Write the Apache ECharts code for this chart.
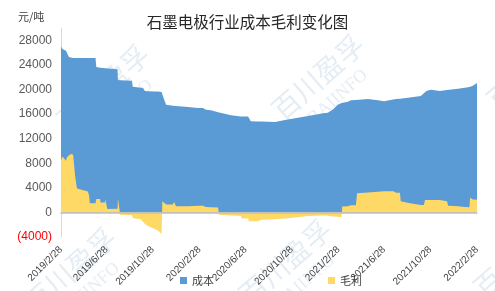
<!DOCTYPE html>
<html>
<head>
<meta charset="utf-8">
<script src="https://cdn.jsdelivr.net/npm/echarts@6/dist/echarts.min.js"></script>
<style>
html,body{margin:0;padding:0;background:#fff;}
#chart{width:495px;height:291px;}
</style>
</head>
<body>
<div id="chart"></div>
<script>
// ---- data ----
const dates = [
 '2019/2/28','2019/3/4','2019/3/8','2019/3/13','2019/3/16','2019/3/21','2019/3/26','2019/4/1','2019/4/6','2019/4/11',
 '2019/5/10','2019/5/13','2019/5/15','2019/5/30','2019/6/1','2019/6/11','2019/6/12','2019/6/24','2019/6/25','2019/6/29',
 '2019/6/30','2019/7/27','2019/7/28','2019/8/1','2019/8/3','2019/9/3','2019/9/5','2019/9/11','2019/9/26','2019/10/2',
 '2019/10/7','2019/10/15','2019/10/20','2019/11/2','2019/11/11','2019/11/20','2019/11/22','2019/11/26','2019/12/2','2019/12/20',
 '2019/12/23','2019/12/28','2020/1/29','2020/2/24','2020/3/8','2020/3/10','2020/3/16','2020/3/29','2020/4/17','2020/4/19',
 '2020/5/21','2020/6/16','2020/6/18','2020/7/5','2020/7/7','2020/7/10','2020/7/12','2020/7/31','2020/8/8','2020/9/14',
 '2020/10/10','2020/11/13','2020/12/10','2021/1/5','2021/1/18','2021/1/31','2021/2/14','2021/2/26','2021/3/8','2021/3/10',
 '2021/3/25','2021/4/2','2021/4/15','2021/4/18','2021/5/17','2021/6/12','2021/6/28','2021/7/22','2021/7/23','2021/7/30',
 '2021/8/9','2021/8/11','2021/9/4','2021/10/3','2021/10/11','2021/10/14','2021/10/19','2021/10/30','2021/11/22','2021/12/11',
 '2021/12/14','2022/1/9','2022/1/27','2022/2/8','2022/2/10','2022/2/17','2022/2/28'
];
const cost = [
 18500,17500,17100,17900,17150,16300,15700,15700,19100,21200,
 21700,22400,23600,23600,21450,21350,21950,21850,21350,21300,
 22850,22680,19300,19250,21900,21850,21350,21400,21400,21800,
 21650,21900,22200,22350,22650,23100,17800,16600,16200,16050,
 15600,16300,16150,15900,15900,16200,15800,15750,15500,16650,
 16300,16200,16600,16600,16950,16750,16300,16250,16000,15800,
 16050,16200,16300,16500,16650,16750,17450,18200,18600,16850,
 17000,17100,17150,15250,15200,14900,14650,14900,14700,15250,
 15300,16700,17200,17750,18200,17600,17800,17950,17750,18100,
 18850,19100,19400,19550,18100,18500,19000
];
const profit = [
 8500,9100,9200,8400,9000,9000,9500,9400,6000,3900,
 3400,2700,1500,1500,2200,2200,1600,1600,2100,2100,
 550,600,2250,2250,-400,-450,-900,-1000,-1100,-1500,
 -1900,-2200,-2500,-2700,-3000,-3500,1800,1900,1300,1300,
 1700,1000,1000,1100,1100,1100,900,850,800,-400,
 -500,-600,-1000,-1000,-1450,-1450,-1450,-1450,-1200,-1100,
 -1000,-800,-600,-550,-500,-550,-650,-700,-800,950,
 1000,1150,1150,3100,3250,3350,3450,3450,3700,3200,
 3200,1800,1500,1200,1200,2000,2000,2000,2000,1800,
 1100,1000,900,850,2400,2100,2050
];
const tickLabels = ['2019/2/28','2019/6/28','2019/10/28','2020/2/28','2020/6/28','2020/10/28','2021/2/28','2021/6/28','2021/10/28','2022/2/28'];
const seriesNames = ['成本','毛利'];
const titleText = '石墨电极行业成本毛利变化图';
const unitText = '元/吨';

// ---- helpers ----
function ts(s){const p=s.split('/').map(Number);return new Date(p[0],p[1]-1,p[2]).getTime();}
function fmt(v){const d=new Date(v);return d.getFullYear()+'/'+(d.getMonth()+1)+'/'+d.getDate();}
// cost is stacked on top of profit (as in the source stacked-area chart)
const costTopData = dates.map((d,i)=>[ts(d),cost[i]+profit[i]]);
const profitData = dates.map((d,i)=>[ts(d),profit[i]]);
const tickValues = tickLabels.map(ts);

const wmColor = 'rgba(170,195,220,0.3)';
function wm(cx,cy){
  const a = 0.72;
  return [
    {type:'text',x:cx,y:cy,rotation:a,z:0,silent:true,style:{text:'百川盈孚',fill:wmColor,fontSize:28,fontFamily:'Noto Sans CJK SC',align:'center',verticalAlign:'middle'}},
    {type:'text',x:cx+20,y:cy+20,rotation:a,z:0,silent:true,style:{text:'BAIINFO',fill:wmColor,fontSize:18,fontFamily:'Liberation Serif',align:'center',verticalAlign:'middle'}}
  ];
}

const chart = echarts.init(document.getElementById('chart'), null, {renderer:'canvas'});
chart.setOption({
  animation:false,
  backgroundColor:'#ffffff',
  title:{
    text:titleText,left:'center',top:9,
    textStyle:{fontSize:15.5,fontWeight:'normal',color:'#262626',fontFamily:'Noto Sans CJK SC'}
  },
  graphic:[
    {type:'text',left:18,top:11,z:10,style:{text:unitText,fill:'#404040',fontSize:11,fontFamily:'Noto Sans CJK SC'}},
    ...wm(318,77),...wm(103,87),...wm(285,262),...wm(70,270),...wm(520,255),...wm(533,67)
  ],
  legend:{
    data:seriesNames,left:175,top:270,icon:'rect',itemWidth:7,itemHeight:7,itemGap:114,
    textStyle:{fontSize:11,color:'#404040',fontFamily:'Noto Sans CJK SC'}
  },
  grid:{left:61,right:18,top:28,bottom:54},
  xAxis:{
    type:'value',min:ts('2019/2/28'),max:ts('2022/2/28'),z:10,
    axisLine:{onZero:true,lineStyle:{color:'#BFBFBF',width:1.5}},
    axisTick:{show:false},
    splitLine:{show:false},
    axisLabel:{
      customValues:tickValues,rotate:45,margin:11,fontSize:10,color:'#404040',
      fontFamily:'Liberation Sans',formatter:(v)=>fmt(v)
    }
  },
  yAxis:{
    type:'value',min:-4000,max:30000,interval:4000,
    axisLine:{show:true,lineStyle:{color:'#D9D9D9',width:1}},
    axisTick:{show:false},
    splitLine:{show:false},
    axisLabel:{
      fontSize:12,color:'#595959',margin:9,fontFamily:'Liberation Sans',
      formatter:(v)=>{ if(v>28000) return ''; if(v<0) return '{neg|('+(-v)+')}'; return String(v); },
      rich:{neg:{color:'#FF0000',fontSize:12,fontFamily:'Liberation Sans'}}
    }
  },
  series:[
    {name:seriesNames[0],type:'line',data:costTopData,
     symbol:'none',z:2,lineStyle:{width:0},itemStyle:{color:'#5B9BD5'},areaStyle:{color:'#5B9BD5',opacity:1,origin:0}},
    {name:seriesNames[1],type:'line',data:profitData,
     symbol:'none',z:3,lineStyle:{width:0},itemStyle:{color:'#FFD966'},areaStyle:{color:'#FFD966',opacity:1,origin:0}}
  ]
});
</script>
</body>
</html>
